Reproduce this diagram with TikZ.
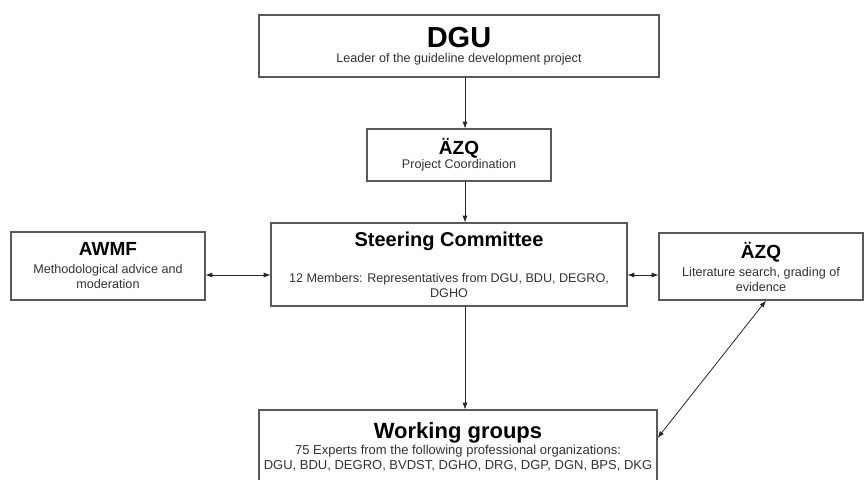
\documentclass[tikz,border=0pt]{standalone}
\usepackage{fontspec}
\setmainfont{Liberation Sans}
\usetikzlibrary{arrows.meta}

\newcommand{\boxtitle}[2]{{\color{black}\bfseries\fontsize{#1}{#1}\selectfont #2}}

\begin{document}
\begin{tikzpicture}[
  x=1pt, y=-1pt,
  box/.style={rectangle, draw=black!65, line width=1.1pt, fill=white, align=center,
    inner sep=0pt, text=black!80, font=\fontsize{12.6}{15}\selectfont},
  link/.style={draw=black!85, line width=0.8pt},
  >={Latex[length=2.4mm,width=1.8mm]}
]
\useasboundingbox (0,0) rectangle (864,479);

% Nodes
\node[box, minimum width=400pt, minimum height=62pt] (dgu) at (459,46)
  {\boxtitle{29}{DGU}\\[0pt] Leader of the guideline development project};
\node[box, minimum width=184pt, minimum height=52pt] (coord) at (459,155)
  {\boxtitle{19}{ÄZQ}\\[-1pt] Project Coordination};
\node[box, minimum width=356pt, minimum height=83pt] (steer) at (449,264.5)
  {\boxtitle{20}{Steering Committee}\\[21pt] 12 Members: Representatives from DGU, BDU, DEGRO,\\DGHO};
\node[box, minimum width=194pt, minimum height=68pt] (awmf) at (108,266)
  {\boxtitle{19}{AWMF}\\[3pt] Methodological advice and\\moderation};
\node[box, minimum width=204pt, minimum height=67pt] (lit) at (761,266.5)
  {\boxtitle{19}{ÄZQ}\\[3pt] Literature search, grading of\\evidence};
\node[box, minimum width=398pt, minimum height=74pt, font=\fontsize{13}{15}\selectfont] (work) at (458,447)
  {\boxtitle{22}{Working groups}\\[1pt] 75 Experts from the following professional organizations:\\DGU, BDU, DEGRO, BVDST, DGHO, DRG, DGP, DGN, BPS, DKG};

\coordinate (spine) at (465,0);
\coordinate (level) at (0,275);

% Arrows
\draw[link, ->] (dgu.south -| spine) -- (coord.north -| spine);
\draw[link, ->] (coord.south -| spine) -- (steer.north -| spine);
\draw[link, ->] (steer.south -| spine) -- (work.north -| spine);
\draw[link, <->] (awmf.east |- level) -- (steer.west |- level);
\draw[link, <->] (steer.east |- level) -- (lit.west |- level);
\draw[link, <->] ([yshift=9pt]work.east) -- ([xshift=5pt]lit.south);

\end{tikzpicture}
\end{document}
